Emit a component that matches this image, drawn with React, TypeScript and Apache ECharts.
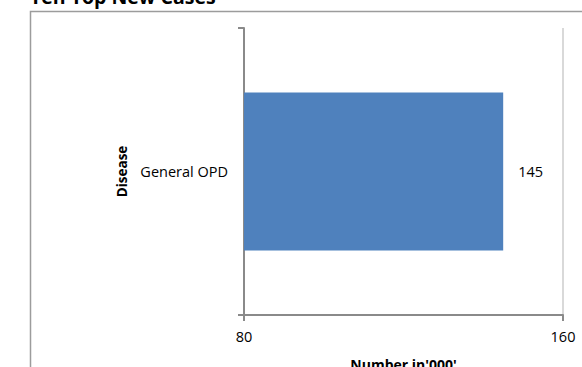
import React, { useEffect, useRef } from "react";
import * as echarts from "echarts";

const titleText = "Ten Top New Cases";
const categories = ["General OPD"];
const values = [145];
const xMin = 80;
const xMax = 160;
const xInterval = 80;
const xAxisName = "Number in'000'";
const yAxisName = "Disease";

const FONT = "'Open Sans', 'Liberation Sans', sans-serif";

export default function App() {
  const ref = useRef<HTMLDivElement>(null);
  useEffect(() => {
    if (!ref.current) return;
    const chart = echarts.init(ref.current, null, { renderer: "svg" });
    chart.setOption({
      animation: false,
      backgroundColor: "#ffffff",
      title: {
        text: titleText,
        left: 30,
        top: -14,
        padding: 0,
        textStyle: { fontFamily: FONT, fontSize: 19.5, fontWeight: "bold", color: "#000" },
      },
      graphic: [
        {
          type: "rect",
          shape: { x: 30.5, y: 11.5, width: 700, height: 500 },
          style: { fill: "none", stroke: "#9c9c9c", lineWidth: 1.5 },
          silent: true,
          z: -10,
        },
      ],
      grid: { left: 244, top: 28, width: 319, height: 287, containLabel: false, outerBoundsMode: "none" },
      xAxis: {
        type: "value",
        min: xMin,
        max: xMax,
        interval: xInterval,
        name: xAxisName,
        nameLocation: "middle",
        nameGap: 42,
        nameTextStyle: { fontFamily: FONT, fontSize: 14, fontWeight: "bold", color: "#000" },
        axisLine: { show: true, lineStyle: { color: "#8a8a8a", width: 2 } },
        axisTick: { show: true, length: 6, lineStyle: { color: "#8a8a8a", width: 2 } },
        axisLabel: { fontFamily: FONT, fontSize: 14.5, color: "#000", margin: 14 },
        splitLine: { show: true, lineStyle: { color: ["rgba(0,0,0,0)", "#d9d9d9"], width: 2 } },
      },
      yAxis: {
        type: "category",
        data: categories,
        name: yAxisName,
        nameLocation: "middle",
        nameGap: 114,
        nameRotate: 90,
        nameTextStyle: { fontFamily: FONT, fontSize: 13.5, fontWeight: "bold", color: "#000" },
        axisLine: { show: true, lineStyle: { color: "#8a8a8a", width: 2 } },
        axisTick: { show: true, length: 6, lineStyle: { color: "#8a8a8a", width: 2 } },
        axisLabel: { fontFamily: FONT, fontSize: 14.5, color: "#000", margin: 16 },
        splitLine: { show: false },
      },
      series: [
        {
          type: "bar",
          data: values,
          barCategoryGap: "45%",
          itemStyle: { color: "#4f81bd" },
          label: {
            show: true,
            position: "right",
            distance: 15,
            fontFamily: FONT,
            fontSize: 14.5,
            color: "#000",
          },
        },
      ],
    });
    return () => chart.dispose();
  }, []);
  return (
    <div
      ref={ref}
      style={{ position: "fixed", left: 0, top: 0, width: 582, height: 367, background: "#fff" }}
    />
  );
}
